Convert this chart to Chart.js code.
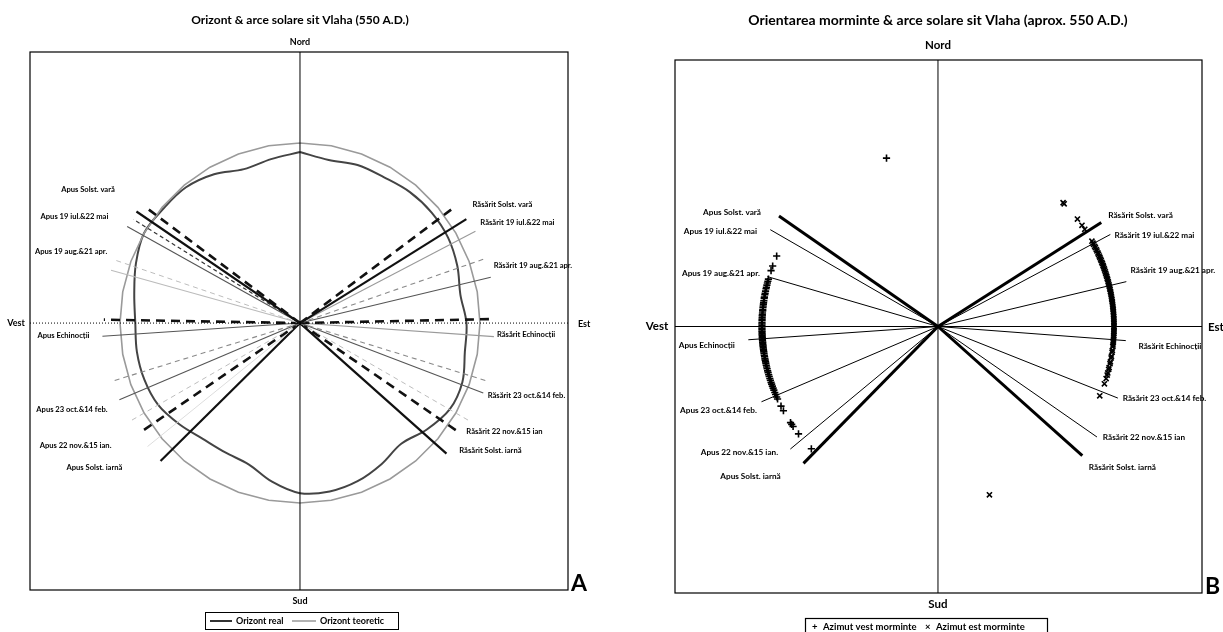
<!DOCTYPE html>
<html>
<head>
<meta charset="utf-8">
<script src="https://cdn.jsdelivr.net/npm/chart.js@4.4.0/dist/chart.umd.min.js"></script>
<style>
  html, body { margin: 0; padding: 0; background: #fff; }
  #wrapA { position: absolute; left: 0; top: 0; }
  #wrapB { position: absolute; left: 612px; top: 0; }
</style>
</head>
<body>
<div id="wrapA"><canvas id="chartA" width="612" height="632"></canvas></div>
<div id="wrapB"><canvas id="chartB" width="611" height="632"></canvas></div>
<script>
// --- date ---
const orizontAzimut = [0, 10, 20, 30, 40, 50, 60, 70, 80, 90, 100, 110, 120, 130, 140, 150, 160, 170, 180,
  190, 200, 210, 220, 230, 240, 250, 260, 270, 280, 290, 300, 310, 320, 330, 340, 350, 360];
const orizontReal = [0.95, 0.92, 0.935, 0.935, 0.95, 0.955, 0.95, 0.93, 0.905, 0.925, 0.93, 0.96, 0.96, 0.92,
  0.875, 0.905, 0.935, 0.95, 0.945, 0.895, 0.835, 0.83, 0.84, 0.875, 0.91, 0.92, 0.92, 0.915, 0.935, 0.97,
  1.0, 0.99, 0.985, 0.955, 0.91, 0.925, 0.95];
const orizontTeoretic = 1.0;

// raze A: azimut (grade) si lungime
const razeA_az = [306.9, 304.3, 301.9, 299.2, 288.8, 285.6, 271.0, 266.2, 252.8, 247.0, 240.0, 235.6, 231.0, 225.3,
  53.1, 58.0, 62.4, 70.8, 76.5, 88.8, 94.0, 107.2, 110.9, 120.0, 124.5, 131.7];
const razeA_lung = [1.07, 1.10, 1.09, 1.10, 1.09, 1.09, 1.09, 1.10, 1.09, 1.09, 1.09, 1.07, 1.09, 1.09,
  1.06, 1.09, 1.10, 1.09, 1.09, 1.08, 1.08, 1.09, 1.09, 1.09, 1.08, 1.09];
const razeA_stil = ['grosPunctat', 'gros', 'negruPunctat', 'inchis', 'deschisPunctat', 'deschis', 'grosPunctat',
  'inchis', 'griPunctat', 'inchis', 'deschisPunctat', 'grosPunctat', 'foarteDeschis', 'gros',
  'grosPunctat', 'gros', 'gri', 'griPunctat', 'inchis', 'grosPunctat', 'gri', 'griPunctat', 'inchis',
  'deschisPunctat', 'grosPunctat', 'gros'];

// raze B
const razeB_az = [304.8, 300.0, 286.3, 266.0, 246.9, 230.3, 224.5, 57.5, 61.9, 76.6, 94.3, 111.7, 124.8, 131.8];
const razeB_lung = [1.10, 1.10, 1.01, 1.08, 1.09, 1.09, 1.09, 1.10, 1.11, 1.10, 1.07, 1.10, 1.10, 1.10];
const razeB_gros = [true, false, false, false, false, false, true, true, false, false, false, false, false, true];

// azimut morminte
const azimutVest = [293.6, 290.1, 288.5, 285.6, 284.9, 284.3, 283.6, 282.9, 282.4, 281.6, 280.9, 280.4, 279.6,
  279.2, 278.4, 277.8, 277.3, 276.7, 276.2, 275.5, 275.1, 274.4, 273.8, 273.4, 272.8, 272.3, 271.9, 271.2,
  270.8, 270.3, 269.9, 269.4, 269.0, 268.5, 268.1, 267.6, 267.2, 266.7, 266.3, 265.8, 265.4, 264.9, 264.5,
  264.0, 263.6, 263.1, 262.6, 262.2, 261.7, 261.2, 260.6, 260.1, 259.5, 259.0, 258.4, 257.9, 257.3, 256.7,
  256.1, 255.4, 254.8, 254.1, 253.5, 252.8, 252.2, 251.5, 250.9, 250.2, 249.5, 248.8, 248.0, 247.3, 246.4,
  245.7, 243.1, 241.4, 236.9, 236.2, 235.4, 232.4, 226.0, 343.0];
const azimutEst = [45.3, 45.8, 52.4, 54.9, 56.5, 61.0, 61.7, 62.2, 62.9, 63.4, 64.1, 64.6, 65.3, 65.8, 66.4,
  66.9, 67.5, 68.0, 68.6, 69.1, 69.7, 70.2, 70.8, 71.3, 71.9, 72.4, 73.0, 73.5, 74.1, 74.6, 75.2, 75.7,
  76.3, 76.8, 77.4, 77.9, 78.5, 79.0, 79.6, 80.1, 80.7, 81.2, 81.8, 82.3, 82.9, 83.4, 84.0, 84.5, 85.1,
  85.6, 86.2, 86.7, 87.3, 87.8, 88.4, 88.9, 89.5, 90.1, 90.6, 91.2, 91.7, 92.3, 92.9, 93.4, 94.1, 94.7,
  95.3, 96.0, 96.6, 97.8, 98.4, 99.7, 100.3, 101.6, 102.2, 103.5, 104.1, 105.3, 106.0, 107.2, 109.0,
  113.2, 163.0];
const razaMorminte = 1.0;

const eticheteApus = ['Apus Solst. vară', 'Apus 19 iul.&22 mai', 'Apus 19 aug.&21 apr.', 'Apus Echinocții',
  'Apus 23 oct.&14 feb.', 'Apus 22 nov.&15 ian.', 'Apus Solst. iarnă'];
const eticheteRasarit = ['Răsărit Solst. vară', 'Răsărit 19 iul.&22 mai', 'Răsărit 19 aug.&21 apr.',
  'Răsărit Echinocții', 'Răsărit 23 oct.&14 feb.', 'Răsărit 22 nov.&15 ian', 'Răsărit Solst. iarnă'];

// --- asezare etichete (unitati de axa) ---
const pozA = [[-1.178, 0.744], [-1.253, 0.594], [-1.272, 0.40], [-1.314, -0.067], [-1.267, -0.478],
  [-1.247, -0.678], [-1.142, -0.80],
  [1.125, 0.656], [1.208, 0.556], [1.294, 0.317], [1.256, -0.061], [1.258, -0.40], [1.136, -0.60], [1.058, -0.711]];
const pozB = [[-1.170, 0.651], [-1.236, 0.543], [-1.233, 0.304], [-1.313, -0.105], [-1.247, -0.474],
  [-1.128, -0.713], [-1.065, -0.849],
  [1.151, 0.634], [1.230, 0.520], [1.335, 0.321], [1.318, -0.111], [1.287, -0.406], [1.170, -0.628], [1.048, -0.798]];

const stiluriA = {
  grosPunctat: { color: '#111', width: 2.6, dash: [9, 6] },
  gros: { color: '#111', width: 2.2, dash: [] },
  negruPunctat: { color: '#333', width: 1.2, dash: [4, 3] },
  inchis: { color: '#555', width: 1.1, dash: [] },
  griPunctat: { color: '#8a8a8a', width: 1.1, dash: [5, 4] },
  gri: { color: '#9a9a9a', width: 1.1, dash: [] },
  deschisPunctat: { color: '#bdbdbd', width: 1, dash: [5, 4] },
  deschis: { color: '#bbbbbb', width: 1.1, dash: [] },
  foarteDeschis: { color: '#dddddd', width: 1, dash: [] }
};

function punct(az, r) {
  const a = az * Math.PI / 180;
  return { x: r * Math.sin(a), y: r * Math.cos(a) };
}
function linie(data, color, width, dash) {
  return { data, showLine: true, borderColor: color, borderWidth: width, borderDash: dash || [],
    pointRadius: 0, fill: false, tension: 0 };
}

const textePlugin = {
  id: 'texte',
  afterDraw(chart, args, o) {
    const { ctx, chartArea: a, scales: { x, y } } = chart;
    const cx = x.getPixelForValue(0), cy = y.getPixelForValue(0);
    ctx.save();
    ctx.strokeStyle = '#000';
    ctx.lineWidth = 1.2;
    ctx.strokeRect(a.left, a.top, a.right - a.left, a.bottom - a.top);
    ctx.fillStyle = '#000';
    ctx.textBaseline = 'middle';
    ctx.textAlign = 'center';
    ctx.font = o.fontTitlu;
    ctx.fillText(o.titlu, o.titluX, o.titluY);
    ctx.font = o.fontPuncte;
    ctx.fillText('Nord', cx, o.nordY);
    ctx.fillText('Sud', cx, o.sudY);
    ctx.fillText('Vest', o.vestX, cy);
    ctx.textAlign = 'left';
    ctx.fillText('Est', o.estX, cy + 1);
    ctx.font = 'bold 23px Lato';
    ctx.fillText(o.litera, o.literaX, a.bottom - 6);
    ctx.textAlign = 'center';
    ctx.font = o.fontEtichete;
    o.etichete.forEach((t, i) => {
      ctx.fillText(t, x.getPixelForValue(o.poz[i][0]), y.getPixelForValue(o.poz[i][1]));
    });
    o.legenda(ctx);
    ctx.restore();
  }
};

const scalaAscunsa = (min, max) => ({ type: 'linear', min, max, display: false });

// --- grafic A ---
const dsA = [];
dsA.push(linie([{ x: 0, y: -1.6 }, { x: 0, y: 1.6 }], '#000', 1));
dsA.push(linie([{ x: -1.6, y: 0 }, { x: 1.6, y: 0 }], '#000', 1, [1, 2]));
razeA_az.forEach((az, i) => {
  const s = stiluriA[razeA_stil[i]];
  dsA.push(linie([{ x: 0, y: 0 }, punct(az, razeA_lung[i])], s.color, s.width, s.dash));
});
dsA.push(linie(orizontAzimut.map(az => punct(az, orizontTeoretic)), '#9a9a9a', 1.6));
const realDs = linie(orizontAzimut.map((az, i) => punct(az, orizontReal[i])), '#444', 2);
realDs.tension = 0.35;
dsA.push(realDs);

new Chart(document.getElementById('chartA'), {
  type: 'scatter',
  data: { datasets: dsA },
  options: {
    responsive: false,
    animation: false,
    layout: { padding: { left: 30, right: 44, top: 52, bottom: 42 } },
    scales: { x: scalaAscunsa(-1.5, 1.489), y: scalaAscunsa(-1.483, 1.506) },
    plugins: {
      legend: { display: false },
      tooltip: { enabled: false },
      texte: {
        titlu: 'Orizont & arce solare sit Vlaha (550 A.D.)', titluX: 300, titluY: 20,
        fontTitlu: 'bold 12px Lato', fontPuncte: 'bold 9px Lato', fontEtichete: 'bold 7.6px Lato',
        nordY: 42, sudY: 601, vestX: 16, estX: 578, litera: 'A', literaX: 571,
        etichete: eticheteApus.concat(eticheteRasarit), poz: pozA,
        legenda(ctx) {
          ctx.strokeStyle = '#000'; ctx.lineWidth = 1;
          ctx.strokeRect(205.5, 612.5, 193, 17);
          ctx.lineWidth = 2; ctx.strokeStyle = '#333';
          ctx.beginPath(); ctx.moveTo(210, 621); ctx.lineTo(232, 621); ctx.stroke();
          ctx.lineWidth = 1.5; ctx.strokeStyle = '#999';
          ctx.beginPath(); ctx.moveTo(292, 621); ctx.lineTo(316, 621); ctx.stroke();
          ctx.font = 'bold 9px Lato'; ctx.textAlign = 'left';
          ctx.fillText('Orizont real', 236, 621);
          ctx.fillText('Orizont teoretic', 320, 621);
        }
      }
    }
  },
  plugins: [textePlugin]
});

// --- grafic B ---
const dsB = [];
dsB.push({ label: 'Azimut vest morminte', data: azimutVest.map(az => punct(az, razaMorminte)),
  pointStyle: 'cross', pointRadius: 3.6, borderColor: '#000', pointBorderWidth: 1.6, showLine: false });
dsB.push({ label: 'Azimut est morminte', data: azimutEst.map(az => punct(az, razaMorminte)),
  pointStyle: 'crossRot', pointRadius: 3.6, borderColor: '#000', pointBorderWidth: 1.6, showLine: false });
dsB.push(linie([{ x: 0, y: -1.6 }, { x: 0, y: 1.6 }], '#000', 1));
dsB.push(linie([{ x: -1.6, y: 0 }, { x: 1.6, y: 0 }], '#000', 1.2));
razeB_az.forEach((az, i) => {
  dsB.push(linie([{ x: 0, y: 0 }, punct(az, razeB_lung[i])], '#000', razeB_gros[i] ? 3 : 1));
});

new Chart(document.getElementById('chartB'), {
  type: 'scatter',
  data: { datasets: dsB },
  options: {
    responsive: false,
    animation: false,
    layout: { padding: { left: 63, right: 21, top: 60, bottom: 39 } },
    scales: { x: scalaAscunsa(-1.494, 1.5), y: scalaAscunsa(-1.514, 1.514) },
    plugins: {
      legend: { display: false },
      tooltip: { enabled: false },
      texte: {
        titlu: 'Orientarea morminte & arce solare sit Vlaha (aprox. 550 A.D.)', titluX: 326, titluY: 20,
        fontTitlu: 'bold 14px Lato', fontPuncte: 'bold 11.5px Lato', fontEtichete: 'bold 8.2px Lato',
        nordY: 45, sudY: 604, vestX: 45, estX: 596, litera: 'B', literaX: 593,
        etichete: eticheteApus.concat(eticheteRasarit), poz: pozB,
        legenda(ctx) {
          ctx.strokeStyle = '#000'; ctx.lineWidth = 1.2;
          ctx.strokeRect(193.5, 618.5, 242, 20);
          ctx.font = 'bold 9.5px Lato'; ctx.textAlign = 'left';
          ctx.fillText('+', 200, 627);
          ctx.fillText('Azimut vest morminte', 211, 627);
          ctx.fillText('×', 313, 627);
          ctx.fillText('Azimut est morminte', 324, 627);
        }
      }
    }
  },
  plugins: [textePlugin]
});
</script>
</body>
</html>
